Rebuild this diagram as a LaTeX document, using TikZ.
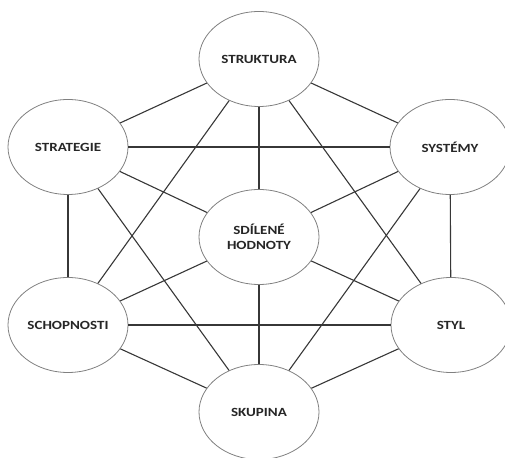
\documentclass[tikz,border=0pt]{standalone}
\usepackage{fontspec}
\usepackage{xcolor}
\usepackage{tikz}
\usetikzlibrary{shapes.geometric}
\setmainfont{Carlito}
\newfontfamily\labelfont[FakeStretch=1.2]{Carlito}
\definecolor{edgegrey}{RGB}{128, 128, 128}
\definecolor{linkgrey}{RGB}{55, 55, 55}
\definecolor{textgrey}{RGB}{38, 38, 38}

\begin{document}
\begin{tikzpicture}[
    x=1pt, y=1pt,
    factor/.style={ellipse, draw=edgegrey, fill=white, line width=0.8pt, minimum width=120pt, minimum height=95pt, inner sep=0pt, align=center, text=textgrey, font=\labelfont\bfseries\fontsize{12.5}{15}\selectfont},
    link/.style={draw=linkgrey, line width=1.1pt}
]
\useasboundingbox (0,0) rectangle (505,457);

% Shared values in the middle
\node[factor] (hodnoty) at (259,220) {SDÍLENÉ\\HODNOTY};

% Outer ring
\node[factor] (struktura) at (259,398) {STRUKTURA};
\node[factor] (strategie) at (68,310) {STRATEGIE};
\node[factor] (systemy) at (450,310) {SYSTÉMY};
\node[factor] (schopnosti) at (68,132) {SCHOPNOSTI};
\node[factor] (styl) at (451,132) {STYL};
\node[factor] (skupina) at (259,45) {SKUPINA};

% Links to the middle
\draw[link] (hodnoty) -- (struktura);
\draw[link] (hodnoty) -- (strategie);
\draw[link] (hodnoty) -- (systemy);
\draw[link] (hodnoty) -- (schopnosti);
\draw[link] (hodnoty) -- (styl);
\draw[link] (hodnoty) -- (skupina);

% Links round the ring
\draw[link] (struktura) -- (strategie);
\draw[link] (struktura) -- (systemy);
\draw[link] (struktura) -- (schopnosti);
\draw[link] (struktura) -- (styl);
\draw[link] (strategie) -- (systemy);
\draw[link] (strategie) -- (schopnosti);
\draw[link] (strategie) -- (skupina);
\draw[link] (systemy) -- (styl);
\draw[link] (systemy) -- (skupina);
\draw[link] (schopnosti) -- (styl);
\draw[link] (schopnosti) -- (skupina);
\draw[link] (styl) -- (skupina);

\end{tikzpicture}
\end{document}
